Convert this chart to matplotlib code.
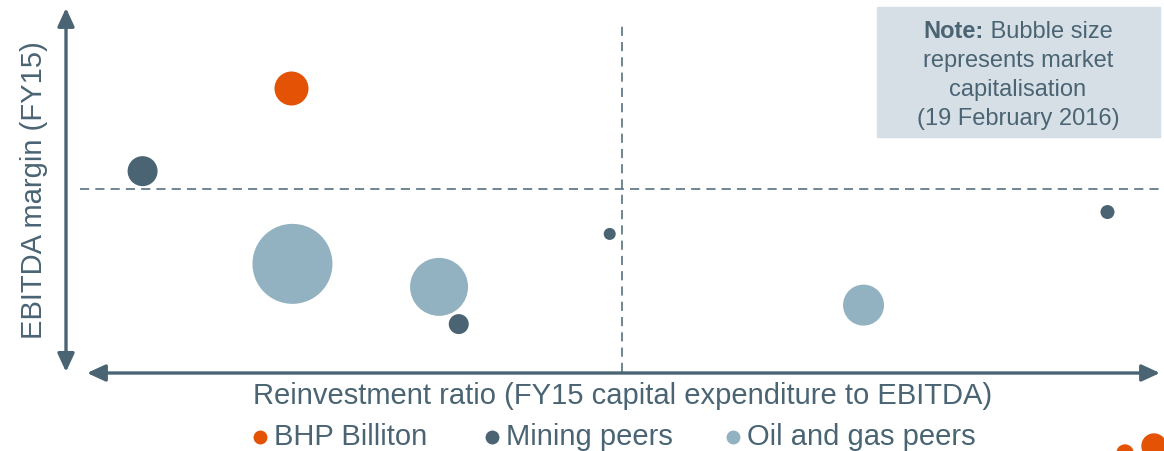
import matplotlib
matplotlib.use("Agg")
import matplotlib.pyplot as plt
from matplotlib.lines import Line2D
from matplotlib.patches import Circle, Rectangle

plt.rcParams['font.family'] = ['Liberation Sans', 'DejaVu Sans']

# reinvestment ratio / EBITDA margin in arbitrary chart units (0-100), size ~ market cap
bhp_x = [20.6]
bhp_y = [78.1]
bhp_cap = [289]

mining_x = [7.0, 49.7, 35.9, 95.2]
mining_y = [55.3, 38.1, 13.4, 44.1]
mining_cap = [225, 36, 100, 49]

oil_x = [20.7, 34.1, 72.9]
oil_y = [29.9, 23.6, 18.6]
oil_cap = [1600, 841, 420]

x_mid = 50.8
y_mid = 50.4

labels = ['BHP Billiton', 'Mining peers', 'Oil and gas peers']

ORANGE = '#E35205'
DARK = '#4A6473'
LIGHT = '#93B2C1'
TEXT = '#4A6473'
BOX = '#D6DFE6'

W, H = 1164, 451
fig = plt.figure(figsize=(W / 100, H / 100), dpi=100)
ax = fig.add_axes([66 / W, 1 - 373 / H, (1160 - 66) / W, (373 - 8) / H])
ax.set_xlim(0, 100)
ax.set_ylim(0, 100)
ax.axis('off')


def area(caps):
    # caps are r^2 in pixels -> points^2
    return [(1.44 ** 2) * c for c in caps]


ax.scatter(oil_x, oil_y, s=area(oil_cap), color=LIGHT, linewidths=0, zorder=3)
ax.scatter(mining_x, mining_y, s=area(mining_cap), color=DARK, linewidths=0, zorder=3)
ax.scatter(bhp_x, bhp_y, s=area(bhp_cap), color=ORANGE, linewidths=0, zorder=3)

# quadrant dividers
ax.plot([1.3, 100], [y_mid, y_mid], color=DARK, lw=1.1, ls=(0, (6, 4)), zorder=1)
ax.plot([x_mid, x_mid], [0.3, 96.2], color=DARK, lw=1.1, ls=(0, (6, 4)), zorder=1)

# axis arrows
arrow = dict(arrowstyle='<|-|>,head_length=0.5,head_width=0.23', color=DARK,
             lw=2.4, mutation_scale=22, shrinkA=0, shrinkB=0)
ax.annotate('', xy=(0, 1.0), xytext=(0, 0.003), xycoords='axes fraction',
            arrowprops=arrow, annotation_clip=False)
ax.annotate('', xy=(1.0, 0), xytext=(21 / 1094, 0), xycoords='axes fraction',
            arrowprops=arrow, annotation_clip=False)

fig.text(34 / W, 1 - 190 / H, 'EBITDA margin (FY15)', rotation=90, ha='center',
         va='center', fontsize=21, color=TEXT)
fig.text(623 / W, 1 - 396 / H,
         'Reinvestment ratio (FY15 capital expenditure to EBITDA)',
         ha='center', va='center', fontsize=21, color=TEXT)

# note box
fig.patches.append(Rectangle((877 / W, 1 - 137 / H), (1160 - 877) / W, 130 / H,
                             transform=fig.transFigure, color=BOX, zorder=0))
note_fs = 17
t_bold = fig.text(0, 1 - 32 / H, 'Note:', ha='left', va='center',
                  fontsize=note_fs, fontweight='bold', color=TEXT)
t_rest = fig.text(0, 1 - 32 / H, ' Bubble size', ha='left', va='center',
                  fontsize=note_fs, color=TEXT)
r = fig.canvas.get_renderer()
wb = t_bold.get_window_extent(r).width
wr = t_rest.get_window_extent(r).width
x0 = 1018 - (wb + wr) / 2
t_bold.set_x(x0 / W)
t_rest.set_x((x0 + wb) / W)
for txt, yy in [('represents market', 61), ('capitalisation', 90),
                ('(19 February 2016)', 119)]:
    fig.text(1018 / W, 1 - yy / H, txt, ha='center', va='center',
             fontsize=note_fs, color=TEXT)

# legend
for lab, col, mx in zip(labels, [ORANGE, DARK, LIGHT], [260, 492, 733]):
    fig.add_artist(Line2D([mx / W], [1 - 437 / H], marker='o', ls='', color=col,
                          markersize=10, markeredgewidth=0,
                          transform=fig.transFigure))
    fig.text((mx + 14) / W, 1 - 437 / H, lab, ha='left', va='center',
             fontsize=21, color=TEXT)

# decorative corner dots
for cx, cy, rad in [(1125, 453, 8), (1154, 446, 12)]:
    fig.patches.append(Circle((cx / 100, (H - cy) / 100), rad / 100,
                              transform=fig.dpi_scale_trans, color=ORANGE))

fig.savefig('out.png', dpi=100)
